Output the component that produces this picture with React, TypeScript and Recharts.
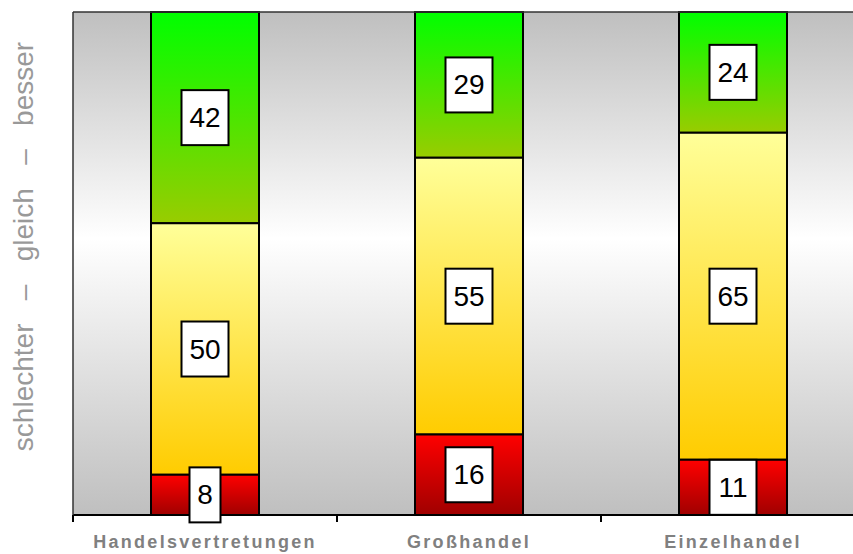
import { Bar, BarChart, LabelList, Label, ReferenceLine, XAxis, YAxis, CartesianGrid } from 'recharts';

const categories = ['Handelsvertretungen', 'Großhandel', 'Einzelhandel'];
const schlechter = [8, 16, 11];
const gleich = [50, 55, 65];
const besser = [42, 29, 24];

const data = categories.map((name, i) => ({
  name,
  schlechter: schlechter[i],
  gleich: gleich[i],
  besser: besser[i],
}));

const FONT = 'Arial, "Liberation Sans", Helvetica, sans-serif';

function ValueBox(props: any) {
  const { x, y, width, height, value } = props;
  const cx = Number(x) + Number(width) / 2;
  const cy = Number(y) + Number(height) / 2;
  const w = String(value).length > 1 ? 47 : 31;
  const h = 55;
  return (
    <g>
      <rect x={cx - w / 2} y={cy - h / 2} width={w} height={h} fill="#fff" stroke="#000" strokeWidth={2} />
      <text
        x={cx}
        y={cy}
        textAnchor="middle"
        dominantBaseline="central"
        fontFamily={FONT}
        fontSize={28}
        fill="#000"
      >
        {value}
      </text>
    </g>
  );
}

function CategoryTick(props: any) {
  const { x, y, payload } = props;
  const half = payload && payload.offset ? payload.offset : 132;
  return (
    <g>
      <line x1={x - half} y1={y - 8} x2={x - half} y2={y - 1} stroke="#000" strokeWidth={2} />
      <text
        x={x}
        y={y + 25}
        textAnchor="middle"
        fontFamily={FONT}
        fontWeight="bold"
        fontSize={18}
        letterSpacing={2.3}
        fill="#808080"
      >
        {payload.value}
      </text>
    </g>
  );
}

function AxisTitle(props: any) {
  const vb = props.viewBox || { x: 0, y: 12, width: 73, height: 503 };
  const x = vb.x + 33;
  const y = vb.y + vb.height / 2 - 17;
  const sp = '\u00a0\u00a0\u00a0';
  return (
    <text
      x={x}
      y={y}
      transform={`rotate(-90 ${x} ${y})`}
      textAnchor="middle"
      fontFamily={FONT}
      fontSize={28}
      fill="#999"
    >
      {`schlechter${sp}–${sp}gleich${sp}–${sp}besser`}
    </text>
  );
}

export default function App() {
  return (
    <div style={{ position: 'absolute', left: 0, top: 0, width: 853, height: 554, overflow: 'hidden' }}>
      <BarChart
        width={870}
        height={554}
        data={data}
        margin={{ top: 12, right: 5, left: 0, bottom: 0 }}
        reverseStackOrder
      >
        <defs>
          <linearGradient id="bgGrad" x1="0" y1="0" x2="0" y2="1">
            <stop offset="0%" stopColor="#bfbfbf" />
            <stop offset="45%" stopColor="#ffffff" />
            <stop offset="100%" stopColor="#bfbfbf" />
          </linearGradient>
          <linearGradient id="redGrad" x1="0" y1="0" x2="0" y2="1">
            <stop offset="0%" stopColor="#ff0000" />
            <stop offset="100%" stopColor="#a00000" />
          </linearGradient>
          <linearGradient id="yellowGrad" x1="0" y1="0" x2="0" y2="1">
            <stop offset="0%" stopColor="#ffff99" />
            <stop offset="100%" stopColor="#ffcc00" />
          </linearGradient>
          <linearGradient id="greenGrad" x1="0" y1="0" x2="0" y2="1">
            <stop offset="0%" stopColor="#00ff00" />
            <stop offset="100%" stopColor="#99cc00" />
          </linearGradient>
        </defs>
        <CartesianGrid horizontal={false} vertical={false} fill="url(#bgGrad)" fillOpacity={1} />
        <XAxis
          dataKey="name"
          height={39}
          axisLine={{ stroke: '#000', strokeWidth: 2 }}
          tickLine={false}
          tick={<CategoryTick />}
          interval={0}
        />
        <YAxis
          width={73}
          domain={[0, 100]}
          tick={false}
          tickLine={false}
          axisLine={{ stroke: '#333', strokeWidth: 1.5 }}
        >
          <Label content={<AxisTitle />} />
        </YAxis>
        <ReferenceLine y={100} stroke="#333" strokeWidth={1.5} />
        <Bar dataKey="besser" stackId="a" barSize={108} fill="url(#greenGrad)" stroke="#000" strokeWidth={2} isAnimationActive={false}>
          <LabelList dataKey="besser" content={<ValueBox />} />
        </Bar>
        <Bar dataKey="gleich" stackId="a" barSize={108} fill="url(#yellowGrad)" stroke="#000" strokeWidth={2} isAnimationActive={false}>
          <LabelList dataKey="gleich" content={<ValueBox />} />
        </Bar>
        <Bar dataKey="schlechter" stackId="a" barSize={108} fill="url(#redGrad)" stroke="#000" strokeWidth={2} isAnimationActive={false}>
          <LabelList dataKey="schlechter" content={<ValueBox />} />
        </Bar>
      </BarChart>
    </div>
  );
}
